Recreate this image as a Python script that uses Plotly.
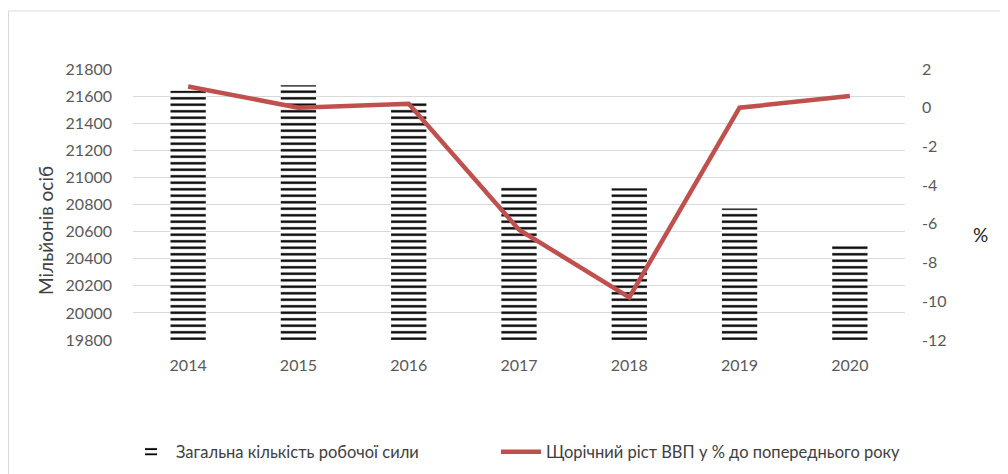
import plotly.graph_objects as go

years = ["2014", "2015", "2016", "2017", "2018", "2019", "2020"]
labor_force = [21640, 21680, 21570, 20930, 20920, 20770, 20510]
gdp_growth = [1.1, 0.0, 0.2, -6.3, -9.8, 0.0, 0.6]
left_ticks = list(range(19800, 21801, 200))
right_ticks = list(range(-12, 3, 2))

FONT = "Lato, 'Open Sans', sans-serif"
GREY = "#595959"
W, H = 1000, 466            # page has an 8px body margin
L, R, T, B = 125, 103, 61, 134
PW, PH = W - L - R, H - T - B


def px(x):
    return (x - L) / PW


def py(y):
    return (T + PH - y) / PH


fig = go.Figure()
fig.add_trace(go.Bar(
    x=years, y=labor_force,
    name="Загальна кількість робочої сили",
    marker=dict(color="white", line=dict(width=0),
                pattern=dict(shape="-", size=6.5, solidity=0.36,
                             fgcolor="#000000", bgcolor="white", fgopacity=1)),
    width=0.32, yaxis="y", legend="legend",
))
fig.add_trace(go.Scatter(
    x=years, y=gdp_growth, mode="lines",
    name="Щорічний ріст ВВП у % до попереднього року",
    line=dict(color="#c0504d", width=4.5),
    yaxis="y2", legend="legend2",
))

legend_common = dict(orientation="h", yanchor="middle", xanchor="left",
                     font=dict(size=16.5, color="#404040"), itemwidth=40,
                     bgcolor="rgba(0,0,0,0)")

fig.update_layout(
    width=W, height=H,
    margin=dict(l=L, r=R, t=T, b=B, autoexpand=False),
    paper_bgcolor="white", plot_bgcolor="white",
    font=dict(family=FONT, size=16, color=GREY),
    showlegend=True,
    legend=dict(x=px(118), y=py(444), **legend_common),
    legend2=dict(x=px(488), y=py(444), **legend_common),
    xaxis=dict(type="category", showgrid=False, showline=False, ticks="",
               automargin=False, ticklabelstandoff=14,
               tickfont=dict(size=16, color=GREY)),
    yaxis=dict(range=[19800, 21800], tickvals=left_ticks,
               ticktext=[str(v) for v in left_ticks], showgrid=True,
               gridcolor="#d9d9d9", gridwidth=1, zeroline=False, showline=False,
               ticks="", automargin=False, ticklabelstandoff=20,
               tickfont=dict(size=16, color=GREY)),
    yaxis2=dict(range=[-12, 2], tickvals=right_ticks,
                ticktext=[str(v) for v in right_ticks], overlaying="y", side="right",
                showgrid=False, zeroline=False, showline=False, ticks="",
                automargin=False, ticklabelstandoff=16,
                tickfont=dict(size=16, color=GREY)),
    shapes=[dict(type="rect", xref="paper", yref="paper",
                 x0=px(0.5), x1=px(1010), y0=py(480), y1=py(3),
                 line=dict(color="#d9d9d9", width=1), fillcolor="rgba(0,0,0,0)",
                 layer="below")],
    annotations=[
        dict(text="%", xref="paper", yref="paper", x=px(973), y=py(227),
             xanchor="center", yanchor="middle",
             showarrow=False, font=dict(size=19, color="#222222")),
        dict(text="Мільйонів осіб", xref="paper", yref="paper", x=px(37),
             y=py(223), xanchor="center", yanchor="middle",
             showarrow=False, textangle=-90,
             font=dict(size=19, color="#404040")),
    ],
)

fig.write_html("out.html")
